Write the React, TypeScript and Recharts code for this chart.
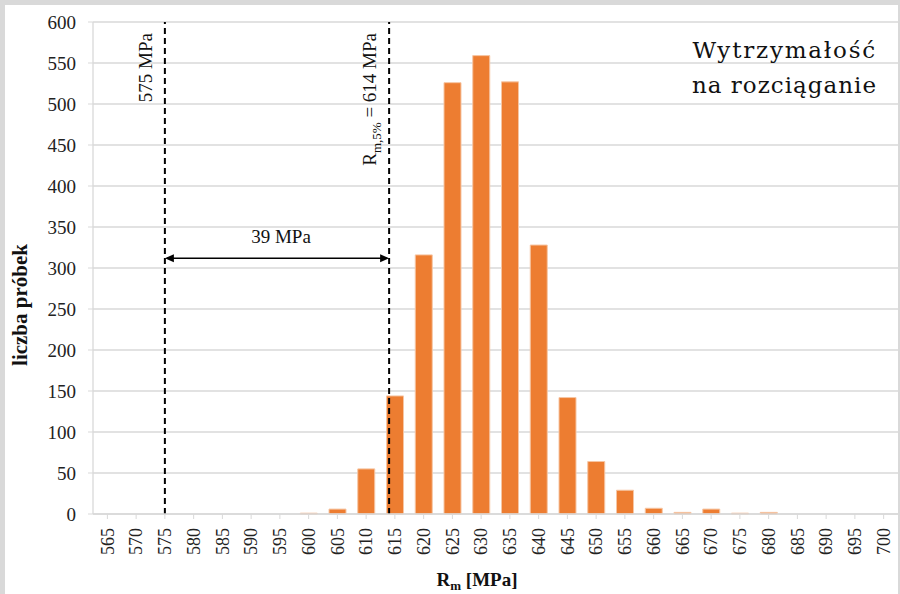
import { BarChart, Bar, XAxis, YAxis, CartesianGrid, ReferenceLine } from "recharts";

// R_m class centres [MPa]
const categories = [
  565, 570, 575, 580, 585, 590, 595, 600, 605, 610, 615, 620, 625, 630,
  635, 640, 645, 650, 655, 660, 665, 670, 675, 680, 685, 690, 695, 700,
];

// number of samples in each class
const counts = [
  0, 0, 0, 0, 0, 0, 0, 1, 6, 55, 144, 316, 526, 559,
  527, 328, 142, 64, 29, 7, 2, 6, 1, 2, 0, 0, 0, 0,
];

const yTicks = [0, 50, 100, 150, 200, 250, 300, 350, 400, 450, 500, 550, 600];

const minLimit = 575; // MPa
const rm5 = 614; // R_m,5%
const spanLevel = 312; // height of the 39 MPa arrow

const data = categories.map((rm, i) => ({ rm, count: counts[i] }));

const GRID = "#d9d9d9";
const SERIF = "'Liberation Serif', 'Times New Roman', serif";
const serif = { fontFamily: SERIF };
const slab = { fontFamily: "'DejaVu Serif', serif" };

const XTick = (props: any) => {
  const { x, y, payload } = props;
  return (
    <text
      x={x}
      y={y}
      transform={`rotate(-90, ${x}, ${y})`}
      textAnchor="end"
      dy="0.35em"
      style={{ ...serif, fontSize: 18 }}
      fill="#222"
    >
      {payload.value}
    </text>
  );
};

const YTick = (props: any) => {
  const { x, y, payload } = props;
  return (
    <text x={x} y={y} textAnchor="end" dy="0.35em" style={{ ...serif, fontSize: 19 }} fill="#222">
      {payload.value}
    </text>
  );
};

const DashedWithLabel = (kind: "min" | "rm5") => (props: any) => {
  const { x1, y1, x2, y2 } = props;
  const top = Math.min(y1, y2);
  const tx = x1 - 20;
  const ty = top + 11;
  return (
    <g>
      <line x1={x1} y1={y1} x2={x2} y2={y2} stroke="#000" strokeWidth={2} strokeDasharray="6 4" />
      <text
        x={tx}
        y={ty}
        transform={`rotate(-90, ${tx}, ${ty})`}
        textAnchor="end"
        dy="0.35em"
        style={{ ...serif, fontSize: 19 }}
        fill="#111"
      >
        {kind === "min" ? (
          `${minLimit} MPa`
        ) : (
          <>
            <tspan>R</tspan>
            <tspan dy={5} style={{ fontSize: 13 }}>m,5%</tspan>
            <tspan dy={-5}>{` = ${rm5} MPa`}</tspan>
          </>
        )}
      </text>
    </g>
  );
};

const SpanArrow = (props: any) => {
  const { x1, y1, x2 } = props;
  const a = Math.min(x1, x2);
  const b = Math.max(x1, x2);
  const y = y1;
  return (
    <g>
      <line x1={a + 2} y1={y} x2={b - 2} y2={y} stroke="#000" strokeWidth={1.5} />
      <polygon points={`${a},${y} ${a + 9},${y - 4} ${a + 9},${y + 4}`} fill="#000" />
      <polygon points={`${b},${y} ${b - 9},${y - 4} ${b - 9},${y + 4}`} fill="#000" />
      <text
        x={(a + b) / 2 + 4}
        y={y - 15}
        textAnchor="middle"
        style={{ ...serif, fontSize: 19 }}
        fill="#111"
      >
        {`${rm5 - minLimit} MPa`}
      </text>
    </g>
  );
};

export default function App() {
  return (
    <div
      style={{
        position: "absolute",
        left: 0,
        top: 0,
        width: 900,
        height: 594,
        background: "#fff",
        overflow: "hidden",
      }}
    >
      <BarChart
        width={900}
        height={594}
        data={data}
        margin={{ top: 22, right: 2, left: 0, bottom: 0 }}
      >
        <CartesianGrid vertical={false} stroke={GRID} strokeWidth={1.3} />
        <XAxis
          type="number"
          dataKey="rm"
          domain={[562.5, 702.5]}
          ticks={categories}
          interval={0}
          allowDataOverflow
          height={80}
          tickSize={5}
          tickMargin={9}
          tickLine={{ stroke: GRID }}
          axisLine={{ stroke: GRID, strokeWidth: 1.3 }}
          tick={<XTick />}
        />
        <YAxis
          domain={[0, 600]}
          ticks={yTicks}
          interval={0}
          width={93}
          tickSize={5}
          tickMargin={12}
          tickLine={{ stroke: GRID }}
          axisLine={{ stroke: GRID, strokeWidth: 1.3 }}
          tick={<YTick />}
        />
        <Bar
          dataKey="count"
          fill="#ED7D31"
          stroke="#f6c6a4"
          strokeWidth={1}
          barSize={17}
          isAnimationActive={false}
        />
        <ReferenceLine x={minLimit} ifOverflow="visible" shape={DashedWithLabel("min")} />
        <ReferenceLine x={rm5} ifOverflow="visible" shape={DashedWithLabel("rm5")} />
        <ReferenceLine
          segment={[
            { x: minLimit, y: spanLevel },
            { x: rm5, y: spanLevel },
          ]}
          ifOverflow="visible"
          shape={SpanArrow}
        />
      </BarChart>

      <svg
        width={900}
        height={594}
        style={{ position: "absolute", left: 0, top: 0, pointerEvents: "none" }}
      >
        <text
          x={20}
          y={305}
          transform="rotate(-90, 20, 305)"
          textAnchor="middle"
          dy="0.35em"
          style={{ ...serif, fontWeight: "bold", fontSize: 21 }}
          fill="#111"
        >
          liczba próbek
        </text>
        <text x={477} y={586} textAnchor="middle" style={{ ...serif, fontWeight: "bold", fontSize: 19 }} fill="#111">
          <tspan>R</tspan>
          <tspan dy={4} style={{ fontSize: 13 }}>m</tspan>
          <tspan dy={-4}> [MPa]</tspan>
        </text>
        <text x={877} y={58} textAnchor="end" style={{ ...slab, fontSize: 23, letterSpacing: 1.8 }} fill="#111">
          Wytrzymałość
        </text>
        <text x={877} y={93} textAnchor="end" style={{ ...slab, fontSize: 23, letterSpacing: 1 }} fill="#111">
          na rozciąganie
        </text>
      </svg>

      <div style={{ position: "absolute", left: 0, top: 0, width: 900, height: 5, background: GRID }} />
      <div style={{ position: "absolute", left: 0, top: 0, width: 5, height: 594, background: GRID }} />
      <div style={{ position: "absolute", left: 898, top: 0, width: 2, height: 594, background: GRID }} />
    </div>
  );
}
